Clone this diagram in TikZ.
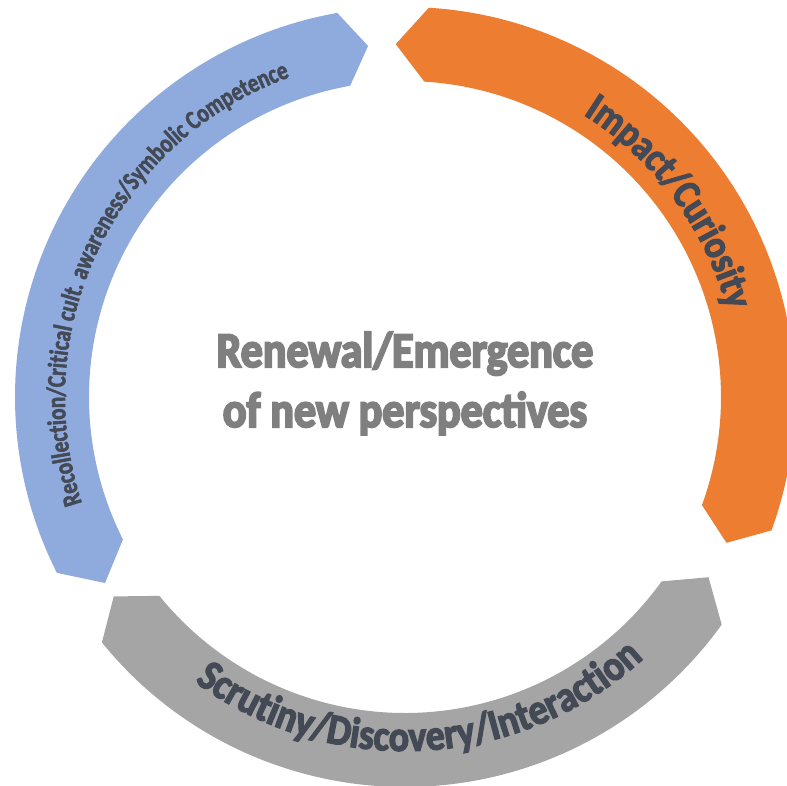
\documentclass[tikz,border=0pt]{standalone}
\usepackage{fontspec}
\newfontfamily\labelfont[FakeStretch=0.88,FakeBold=3]{Carlito}
\newfontfamily\titlefont[FakeStretch=0.88,FakeBold=4]{Carlito}
\newfontfamily\narrowfont[FakeStretch=0.8,FakeBold=2]{Carlito}
\usetikzlibrary{decorations.text}
\definecolor{ringorange}{HTML}{ED7D31}
\definecolor{ringgrey}{HTML}{A5A5A5}
\definecolor{ringblue}{HTML}{8FAADC}
\definecolor{titlegrey}{HTML}{7F7F7F}
\definecolor{arcink}{HTML}{434A56}
\begin{document}
\begin{tikzpicture}[x=1pt,y=1pt]
\tikzstyle{arclabel}=[decorate,decoration={text along path,text align=center}]
\useasboundingbox (-405,-388) rectangle (382,397);

% ring segments, outer arc then inner arc
\fill[ringorange] (86.5:390) arc[start angle=86.5,end angle=-20,radius=390] -- (-24.4:353) -- (-20:316) arc[start angle=-20,end angle=86.5,radius=316] -- (91.5:353) -- cycle;
\fill[ringgrey] (-35.7:390) arc[start angle=-35.7,end angle=-141,radius=390] -- (-145.6:353) -- (-141:316) arc[start angle=-141,end angle=-35.7,radius=316] -- (-30.7:353) -- cycle;
\fill[ringblue] (-153.2:390) arc[start angle=-153.2,end angle=-260,radius=390] -- (-264:353) -- (-260:316) arc[start angle=-260,end angle=-153.2,radius=316] -- (-148.2:353) -- cycle;

% labels along the ring
\path [arclabel,decoration={text={|\labelfont\bfseries\fontsize{40.5}{40.5}\selectfont\color{arcink}|Impact/Curiosity}}] (66.4:334) arc[start angle=66.4,end angle=6.4,radius=334];
\path [arclabel,decoration={text={|\labelfont\bfseries\fontsize{43}{43}\selectfont\color{arcink}|Scrutiny/Discovery/Interaction}}] (227:354) arc[start angle=227,end angle=319,radius=354];
\path [arclabel,decoration={text={|\narrowfont\bfseries\fontsize{26.5}{26.5}\selectfont\color{arcink}|Recollection/Critical cult. awareness/Symbolic Competence}}] (209:340) arc[start angle=209,end angle=99,radius=340];

\node (renewal) [anchor=base,text=titlegrey,font=\titlefont\bfseries\fontsize{50}{50}\selectfont] at (0,30) {Renewal/Emergence};
\node (perspectives) [anchor=base,text=titlegrey,font=\titlefont\bfseries\fontsize{50}{50}\selectfont] at (0,-30) {of new perspectives};
\end{tikzpicture}
\end{document}
